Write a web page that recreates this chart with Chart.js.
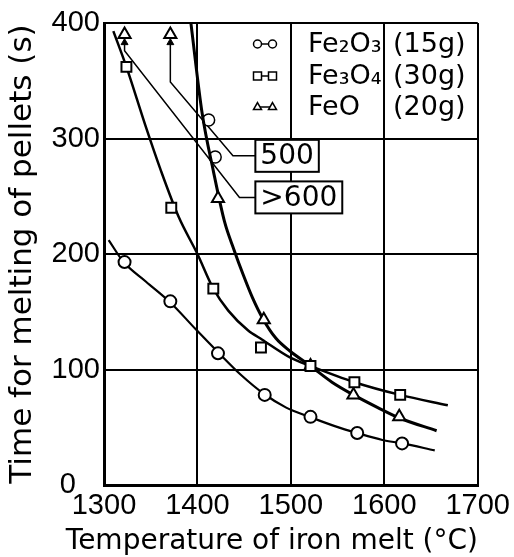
<!DOCTYPE html>
<html>
<head>
<meta charset="utf-8">
<script src="https://cdn.jsdelivr.net/npm/chart.js@4"></script>
<style>
  html, body { margin: 0; padding: 0; background: #fff; }
  canvas { display: block; }
</style>
</head>
<body>
<canvas id="meltChart" width="514" height="557"></canvas>
<script>
// measured points (temperature °C, time s)
const fe2o3_x = [1322, 1371, 1422, 1472, 1521, 1571, 1619];
const fe2o3_y = [193, 159, 114, 78, 59, 45, 36];
const fe3o4_x = [1324, 1372, 1417, 1468, 1521, 1568, 1617];
const fe3o4_y = [362, 240, 170, 119, 103, 89, 78];
// the first two FeO points are off scale (>600 and 500), drawn at the top
const feo_x = [1322, 1371, 1422, 1471, 1521, 1567, 1616];
const feo_y = [390, 390, 248, 143, 103, 78, 59];

// hand-drawn curves
const fe2o3_curve_x = [1305, 1321, 1345, 1371, 1398, 1422, 1447, 1471, 1495, 1520, 1547, 1571, 1598, 1619, 1654];
const fe2o3_curve_y = [212, 193, 176, 158, 135, 115, 95, 79, 67, 59, 51, 45, 39, 36, 30];
const fe3o4_curve_x = [1310, 1324, 1344, 1361, 1380, 1400, 1417, 1433, 1454, 1469, 1500, 1521, 1568, 1617, 1668];
const fe3o4_curve_y = [393, 362, 312, 272, 232, 200, 170, 151, 134, 126, 110, 103, 89, 78, 69];
const feo_curve_x = [1393, 1405, 1417, 1429, 1439, 1449, 1459, 1470, 1484, 1499, 1521, 1544, 1567, 1593, 1616, 1656];
const feo_curve_y = [400, 322, 272, 228, 204, 182, 162, 144, 127, 116, 103, 89, 78, 67, 58, 47];

// leader lines from the off-scale points to the value boxes
const lead500_x = [1371, 1371, 1438, 1462];
const lead500_y = [383, 349, 285, 285];
const lead600_x = [1322, 1322, 1445, 1462];
const lead600_y = [383, 376, 249, 249];
const hop_x = [1412, 1419];
const hop_y = [316, 284];
const arrow_x = [1322, 1371];
const arrow_y = [383, 383];

const box_labels = ['500', '>600'];
const box_x = [1462, 1462];
const box_y = [285, 249];

const x_ticks = [1300, 1400, 1500, 1600, 1700];
const y_ticks = [0, 100, 200, 300, 400];
const x_title = 'Temperature of iron melt (°C)';
const y_title = 'Time for melting of pellets (s)';

const legend_names = ['Fe₂O₃', 'Fe₃O₄', 'FeO'];
const legend_mass = ['(15g)', '(30g)', '(20g)'];
const legend_styles = ['circle', 'rect', 'triangle'];

const toXY = (xs, ys) => xs.map((x, i) => ({ x: x, y: ys[i] }));

function pointSet(label, xs, ys, style, r, bw) {
  return {
    label: label, data: toXY(xs, ys), showLine: false,
    pointStyle: style, pointRadius: r, pointHoverRadius: r,
    pointBackgroundColor: '#fff', pointBorderColor: '#000', pointBorderWidth: bw || 2
  };
}
function curveSet(xs, ys, w) {
  return {
    data: toXY(xs, ys), showLine: true, borderColor: '#000', borderWidth: w,
    pointRadius: 0, cubicInterpolationMode: 'monotone', fill: false
  };
}
function leaderSet(xs, ys) {
  return {
    data: toXY(xs, ys), showLine: true, borderColor: '#000', borderWidth: 1.5,
    tension: 0, fill: false, pointRadius: 0
  };
}

function mark(ctx, style, x, y, r) {
  ctx.beginPath();
  if (style === 'circle') ctx.arc(x, y, r, 0, Math.PI * 2);
  else if (style === 'rect') ctx.rect(x - r, y - r, 2 * r, 2 * r);
  else { ctx.moveTo(x, y - r * 1.1); ctx.lineTo(x + r, y + r * 0.65); ctx.lineTo(x - r, y + r * 0.65); ctx.closePath(); }
  ctx.fillStyle = '#fff';
  ctx.fill();
  ctx.stroke();
}

// legend with o-o markers, the two boxed values and the x title
const extras = {
  id: 'extras',
  afterDatasetsDraw(chart) {
    const ctx = chart.ctx;
    const area = chart.chartArea;
    const xs = chart.scales.x, ys = chart.scales.y;
    ctx.save();
    ctx.strokeStyle = '#000';
    ctx.fillStyle = '#000';
    ctx.textBaseline = 'middle';
    ctx.textAlign = 'left';
    ctx.font = '27px "DejaVu Sans"';
    const rows = [21, 53, 84];
    legend_names.forEach((name, i) => {
      const y = area.top + rows[i];
      const x1 = area.left + 153.5, x2 = area.left + 168.5;
      ctx.lineWidth = 1.5;
      ctx.beginPath(); ctx.moveTo(x1, y); ctx.lineTo(x2, y); ctx.stroke();
      mark(ctx, legend_styles[i], x1, y, 4);
      mark(ctx, legend_styles[i], x2, y, 4);
      ctx.fillStyle = '#000';
      ctx.fillText(name, area.left + 204, y + 1);
      ctx.fillText(legend_mass[i], area.left + 289, y + 1);
    });

    ctx.font = '28px "DejaVu Sans"';
    box_labels.forEach((txt, i) => {
      const left = xs.getPixelForValue(box_x[i]);
      const cy = ys.getPixelForValue(box_y[i]);
      const w = ctx.measureText(txt).width + 10;
      ctx.fillStyle = '#fff';
      ctx.fillRect(left, cy - 16, w, 32);
      ctx.lineWidth = 2;
      ctx.strokeRect(left, cy - 16, w, 32);
      ctx.fillStyle = '#000';
      ctx.fillText(txt, left + 5, cy + 1);
    });

    ctx.textAlign = 'center';
    ctx.textBaseline = 'alphabetic';
    ctx.fillText(x_title, (area.left + area.right) / 2 - 19, chart.height - 8);
    ctx.restore();
  }
};

const ctx_melt = document.getElementById('meltChart').getContext('2d');
const meltChart = new Chart(ctx_melt, {
  type: 'scatter',
  data: {
    datasets: [
      pointSet('Fe₂O₃ (15g)', fe2o3_x, fe2o3_y, 'circle', 6),
      pointSet('Fe₃O₄ (30g)', fe3o4_x, fe3o4_y, 'rect', 7),
      pointSet('FeO (20g)', feo_x, feo_y, 'triangle', 7),
      curveSet(feo_curve_x, feo_curve_y, 3),
      curveSet(fe3o4_curve_x, fe3o4_curve_y, 2.5),
      curveSet(fe2o3_curve_x, fe2o3_curve_y, 2.2),
      pointSet('hop', hop_x, hop_y, 'circle', 6, 1.5),
      leaderSet(lead500_x, lead500_y),
      leaderSet(lead600_x, lead600_y),
      {
        data: toXY(arrow_x, arrow_y), showLine: false, pointStyle: 'triangle',
        pointRadius: 4, pointBackgroundColor: '#000', pointBorderColor: '#000', pointBorderWidth: 1
      }
    ]
  },
  options: {
    responsive: false,
    animation: false,
    layout: { padding: { left: 0, right: 32, top: 23, bottom: 0 } },
    plugins: { legend: { display: false }, tooltip: { enabled: false } },
    scales: {
      x: {
        type: 'linear', min: 1300, max: 1700,
        afterBuildTicks: (s) => { s.ticks = x_ticks.map(v => ({ value: v })); },
        afterFit: (s) => { s.height = 72; },
        ticks: {
          color: '#000', font: { family: 'Liberation Sans', size: 29 }, padding: 4,
          maxRotation: 0, autoSkip: false, callback: (v) => String(v)
        },
        grid: { color: '#000', lineWidth: 2, drawTicks: false },
        border: { display: true, color: '#000', width: 3 }
      },
      y: {
        type: 'linear', min: 0, max: 400,
        afterBuildTicks: (s) => { s.ticks = y_ticks.map(v => ({ value: v })); },
        afterFit: (s) => { s.width = 104; },
        ticks: {
          color: '#000', font: { family: 'Liberation Sans', size: 29 }, padding: 4,
          callback: (v) => v === 0 ? '0   ' : String(v)
        },
        grid: { color: '#000', lineWidth: 2, drawTicks: false },
        border: { display: true, color: '#000', width: 3 },
        title: {
          display: true, text: y_title, color: '#000',
          font: { family: 'DejaVu Sans', size: 31 }, padding: { top: 4, bottom: 0 }
        }
      }
    }
  },
  plugins: [extras]
});
</script>
</body>
</html>
